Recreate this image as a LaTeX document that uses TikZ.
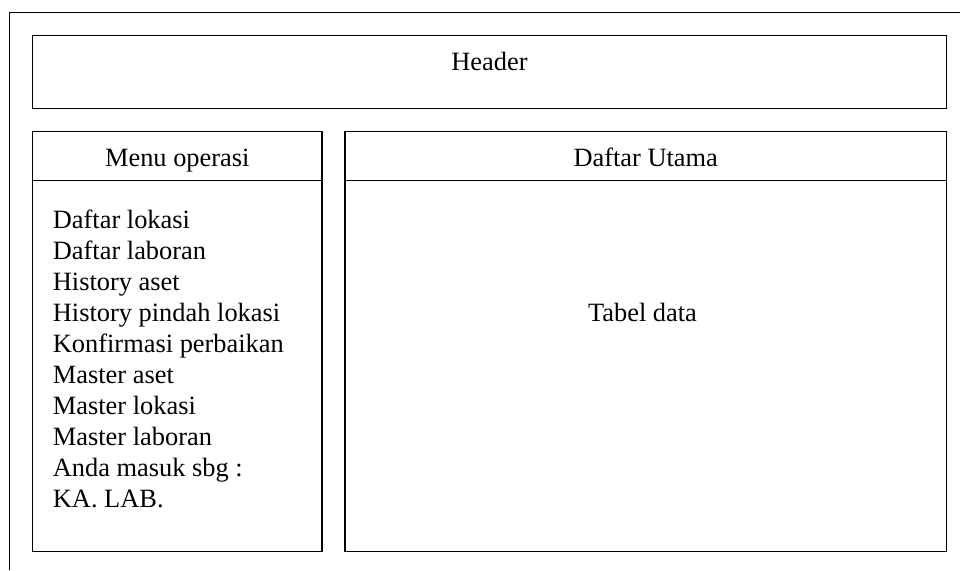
\documentclass[tikz,border=0pt]{standalone}
\usepackage{fontspec}
\setmainfont{Liberation Serif}
\begin{document}
\begin{tikzpicture}[x=1pt,y=-1pt,
  frame/.style={draw=black, line width=1.8pt},
  lbl/.style={font=\fontsize{26.4}{31}\selectfont, inner sep=0pt, anchor=base},
  item/.style={lbl, anchor=base west}]
\useasboundingbox (0,0) rectangle (960,570);
% page frame (continues past the right and bottom edges)
\draw[frame] (960,12.5) -- (9.5,12.5) -- (9.5,570);
% header
\draw[frame] (32.5,35.5) rectangle (946.5,108.5);
\node[lbl] (header) at (489.5,70.7) {Header};
% menu panel
\draw[frame] (32.5,131.5) rectangle (322,551.5);
\draw[frame] (32.5,180.5) -- (322,180.5);
\node[lbl] (menutitle) at (177.3,166.7) {Menu operasi};
% main panel
\draw[frame] (345,131.5) rectangle (946.5,551.5);
\draw[frame] (345,180.5) -- (946.5,180.5);
\node[lbl] (maintitle) at (645.7,166.7) {Daftar Utama};
\node[lbl] (table) at (642.5,321.7) {Tabel data};
% menu entries
\foreach \t [count=\i] in {Daftar lokasi, Daftar laboran, History aset,
    History pindah lokasi, Konfirmasi perbaikan, Master aset,
    Master lokasi, Master laboran, Anda masuk sbg :, KA. LAB.}
  \node[item] (m\i) at (52.7,{228+31*(\i-1)}) {\t};
\end{tikzpicture}
\end{document}
